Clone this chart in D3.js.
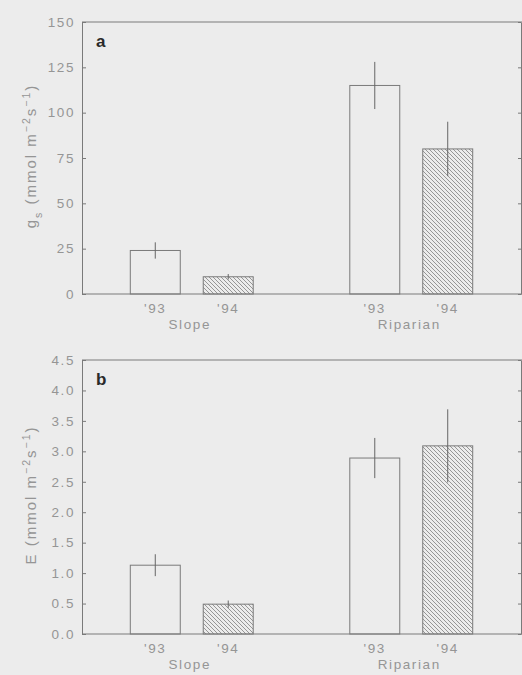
<!DOCTYPE html>
<html>
<head>
<meta charset="utf-8">
<script src="https://cdn.jsdelivr.net/npm/d3@7"></script>
<style>
  html, body { margin: 0; padding: 0; background: #ececec; }
  svg { display: block; }
  text { font-family: "Liberation Sans", "DejaVu Sans", sans-serif; }
</style>
</head>
<body>
<div id="chart"></div>
<script>
// data
const groups = ['Slope', 'Riparian'];
const years = ["'93", "'94"];
const gsMean = [24, 9.5, 115, 80];
const gsErr = [4.5, 1.5, 13, 15];
const eMean = [1.13, 0.49, 2.89, 3.09];
const eErr = [0.18, 0.06, 0.33, 0.6];
const gsTicks = [0, 25, 50, 75, 100, 125, 150];
const eTicks = [0, 0.5, 1, 1.5, 2, 2.5, 3, 3.5, 4, 4.5];

const width = 522;
const height = 675;
const left = 82;
const right = 521;
const lineColor = '#7a7a7a';
const textColor = '#959595';

const svg = d3.select('#chart')
  .append('svg')
  .attr('width', width)
  .attr('height', height);

svg.append('defs')
  .append('pattern')
  .attr('id', 'hatch')
  .attr('patternUnits', 'userSpaceOnUse')
  .attr('width', 4)
  .attr('height', 4)
  .append('path')
  .attr('d', 'M-1,-1 L5,5 M-1,3 L1,5 M3,-1 L5,1')
  .attr('stroke', '#8c8c8c')
  .attr('stroke-width', 0.9);

const xGroup = d3.scaleBand()
  .domain(groups)
  .range([left, right])
  .paddingInner(0.44)
  .paddingOuter(0.22);

const xYear = d3.scaleBand()
  .domain(years)
  .range([0, xGroup.bandwidth()])
  .paddingInner(0.315)
  .paddingOuter(0);

const rows = groups.flatMap(g => years.map(y => ({ group: g, year: y })));

function styleText(sel, size, spacing) {
  sel.style('font-size', size + 'px')
    .style('letter-spacing', (spacing || 1.6) + 'px')
    .style('fill', textColor);
}

function drawPanel(opts) {
  const { top, bottom, max, ticks, means, errs, fmt, letter, letterY, label } = opts;

  const y = d3.scaleLinear().domain([0, max]).range([bottom, top]);
  const data = rows.map((r, i) => ({ ...r, mean: means[i], err: errs[i] }));

  const panel = svg.append('g');

  // top frame line
  panel.append('line')
    .attr('x1', left).attr('x2', width)
    .attr('y1', top).attr('y2', top)
    .attr('stroke', lineColor);

  const yAxis = d3.axisLeft(y)
    .tickValues(ticks)
    .tickFormat(fmt)
    .tickSizeInner(-4)
    .tickSizeOuter(0)
    .tickPadding(7);

  const ga = panel.append('g')
    .attr('transform', `translate(${left},0)`)
    .call(yAxis);
  ga.select('.domain').attr('stroke', lineColor);
  ga.selectAll('.tick line').attr('stroke', lineColor);
  styleText(ga.selectAll('.tick text'), 13.5);

  const yRight = d3.axisRight(y)
    .tickValues(ticks)
    .tickFormat('')
    .tickSizeInner(-3)
    .tickSizeOuter(0);

  const gr = panel.append('g')
    .attr('transform', `translate(${right},0)`)
    .call(yRight);
  gr.select('.domain').attr('stroke', lineColor);
  gr.selectAll('.tick line').attr('stroke', lineColor);

  // bars
  panel.selectAll('.bar')
    .data(data)
    .enter()
    .append('rect')
    .attr('class', 'bar')
    .attr('x', d => xGroup(d.group) + xYear(d.year))
    .attr('y', d => y(d.mean))
    .attr('width', xYear.bandwidth())
    .attr('height', d => y(0) - y(d.mean))
    .attr('fill', d => d.year === "'94" ? 'url(#hatch)' : 'none')
    .attr('stroke', lineColor)
    .attr('stroke-width', 1);

  // error bars
  panel.selectAll('.err')
    .data(data)
    .enter()
    .append('line')
    .attr('class', 'err')
    .attr('x1', d => xGroup(d.group) + xYear(d.year) + xYear.bandwidth() / 2)
    .attr('x2', d => xGroup(d.group) + xYear(d.year) + xYear.bandwidth() / 2)
    .attr('y1', d => y(d.mean + d.err))
    .attr('y2', d => y(d.mean - d.err))
    .attr('stroke', '#666')
    .attr('stroke-width', 1);

  // bottom axis line
  panel.append('line')
    .attr('x1', left).attr('x2', width)
    .attr('y1', bottom).attr('y2', bottom)
    .attr('stroke', lineColor);

  // year labels
  styleText(panel.selectAll('.yr')
    .data(data)
    .enter()
    .append('text')
    .attr('class', 'yr')
    .attr('x', d => xGroup(d.group) + xYear(d.year) + xYear.bandwidth() / 2)
    .attr('y', bottom + 19)
    .attr('text-anchor', 'middle')
    .text(d => d.year), 13.5);

  // group labels
  styleText(panel.selectAll('.grp')
    .data(groups)
    .enter()
    .append('text')
    .attr('class', 'grp')
    .attr('x', d => xGroup(d) + xGroup.bandwidth() / 2 - 2)
    .attr('y', bottom + 35)
    .attr('text-anchor', 'middle')
    .text(d => d), 13.5);

  // panel letter
  panel.append('text')
    .attr('x', 96)
    .attr('y', letterY)
    .style('font-size', '17px')
    .style('font-weight', 'bold')
    .style('fill', '#2a2a2a')
    .text(letter);

  // y label
  const lab = panel.append('text')
    .attr('transform', `translate(36,${(top + bottom) / 2 - 2}) rotate(-90)`)
    .attr('text-anchor', 'middle');
  styleText(lab, 15, 2);
  label.forEach(part => {
    const t = lab.append('tspan').text(part.t);
    if (part.sub) t.attr('baseline-shift', 'sub').style('font-size', '10.5px');
    if (part.sup) t.attr('baseline-shift', 'super').style('font-size', '10.5px');
  });
}

drawPanel({
  top: 22,
  bottom: 294,
  max: 150,
  ticks: gsTicks,
  means: gsMean,
  errs: gsErr,
  fmt: d3.format('d'),
  letter: 'a',
  letterY: 47,
  label: [
    { t: 'g' }, { t: 's', sub: true }, { t: ' (mmol m' }, { t: '\u22122', sup: true },
    { t: 's' }, { t: '\u22121', sup: true }, { t: ')' }
  ]
});

drawPanel({
  top: 360,
  bottom: 634,
  max: 4.5,
  ticks: eTicks,
  means: eMean,
  errs: eErr,
  fmt: d3.format('.1f'),
  letter: 'b',
  letterY: 385,
  label: [
    { t: 'E (mmol m' }, { t: '\u22122', sup: true },
    { t: 's' }, { t: '\u22121', sup: true }, { t: ')' }
  ]
});
</script>
</body>
</html>
